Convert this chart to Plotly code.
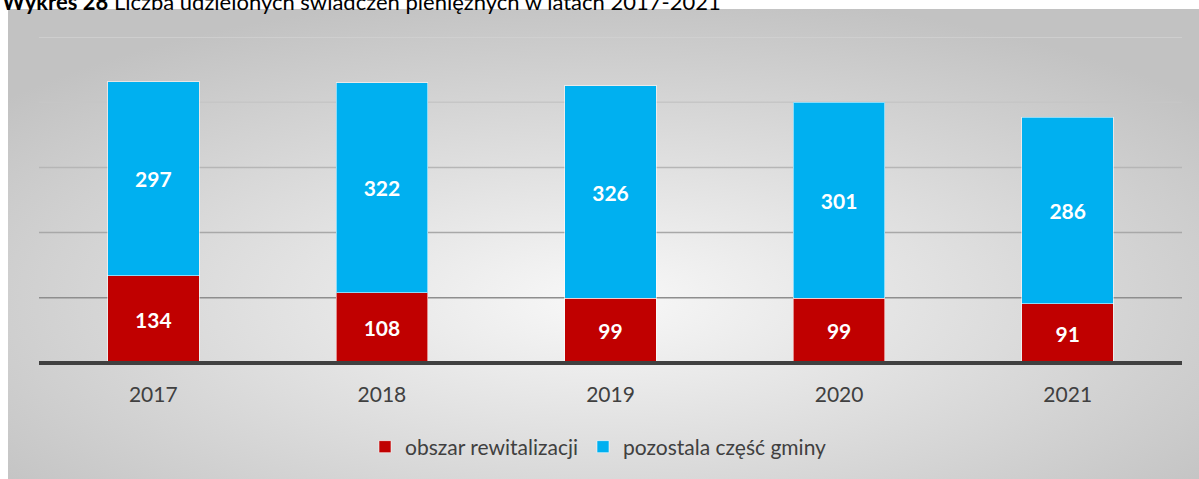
import base64
import plotly.graph_objects as go

years = ["2017", "2018", "2019", "2020", "2021"]
obszar = [134, 108, 99, 99, 91]
pozostala = [297, 322, 326, 301, 286]
grid_values = [100, 200, 300, 400, 500]
grid_colors = ["#8e8e8e", "#a8a8a8", "#b6b6b6", "#c6c6c6", "#d2d2d2"]

title_text = "<b>Wykres 28</b> Liczba udzielonych świadczeń pieniężnych w latach 2017-2021"
name_red = "obszar rewitalizacji"
name_blue = "pozostala część gminy"

W, H = 1199, 479
ML, MR, MT, MB = 39, 17, 37, 116
PW, PH = W - ML - MR, H - MT - MB

FONT = "Lato, 'Open Sans', sans-serif"

svg = (
    '<svg xmlns="http://www.w3.org/2000/svg" width="1191" height="470" viewBox="0 0 1191 470" preserveAspectRatio="none">'
    '<defs><radialGradient id="g" cx="50%" cy="62%" r="66%">'
    '<stop offset="0" stop-color="#f8f8f8"/><stop offset="1" stop-color="#c2c2c2"/>'
    '</radialGradient></defs><rect width="1191" height="470" fill="url(#g)"/></svg>'
)
svg_uri = "data:image/svg+xml;base64," + base64.b64encode(svg.encode()).decode()

fig = go.Figure()
fig.add_trace(go.Bar(
    x=years, y=obszar, name=name_red,
    marker=dict(color="#C00000", line=dict(color="rgba(255,255,255,0.55)", width=1)),
    text=obszar, textposition="inside", insidetextanchor="middle",
    textfont=dict(color="white", size=21, family=FONT, weight="bold"),
    width=0.4, hoverinfo="skip",
))
fig.add_trace(go.Bar(
    x=years, y=pozostala, name=name_blue,
    marker=dict(color="#00B0F0", line=dict(color="rgba(255,255,255,0.55)", width=1)),
    text=pozostala, textposition="inside", insidetextanchor="middle",
    textfont=dict(color="white", size=21, family=FONT, weight="bold"),
    width=0.4, hoverinfo="skip",
))

shapes = []
for v, c in zip(grid_values, grid_colors):
    shapes.append(dict(type="line", xref="paper", yref="y", x0=0, x1=1, y0=v, y1=v,
                       line=dict(color=c, width=1.5), layer="below"))
# baseline (value axis zero), unclipped so its full thickness shows
shapes.append(dict(type="line", xref="paper", yref="paper", x0=0, x1=1, y0=0, y1=0,
                   line=dict(color="#404040", width=4), layer="above"))

fig.update_layout(
    width=W, height=H,
    margin=dict(l=ML, r=MR, t=MT, b=MB, pad=0),
    paper_bgcolor="white", plot_bgcolor="rgba(0,0,0,0)",
    barmode="stack", bargap=0.6,
    font=dict(family=FONT, color="#404040"),
    shapes=shapes,
    images=[dict(source=svg_uri, xref="paper", yref="paper",
                 x=(8 - ML) / PW, y=(H - MB - 9) / PH,
                 sizex=(W - 8) / PW, sizey=(H - 9) / PH,
                 sizing="stretch", xanchor="left", yanchor="top", layer="below")],
    xaxis=dict(showgrid=False, showline=False, zeroline=False,
               ticks="outside", ticklen=13, tickcolor="rgba(0,0,0,0)",
               tickfont=dict(size=21, color="#404040", family=FONT)),
    yaxis=dict(range=[0, 500], showgrid=False, zeroline=False, showline=False,
               showticklabels=False, ticks=""),
    legend=dict(orientation="h", x=0.5 - 12 / PW, xanchor="center",
                y=(H - MB - 447) / PH, yanchor="middle",
                font=dict(size=21, color="#404040", family=FONT),
                traceorder="normal", bgcolor="rgba(0,0,0,0)"),
    annotations=[dict(text=title_text, xref="paper", yref="paper",
                      x=-ML / PW, y=1, xanchor="left", yanchor="bottom",
                      yshift=MT - 17, showarrow=False,
                      font=dict(size=22, color="black", family=FONT))],
    showlegend=True,
)

fig.write_html("out.html",
               config={"displayModeBar": False},
               post_script="document.body.style.margin='0';document.body.style.overflow='hidden';")
